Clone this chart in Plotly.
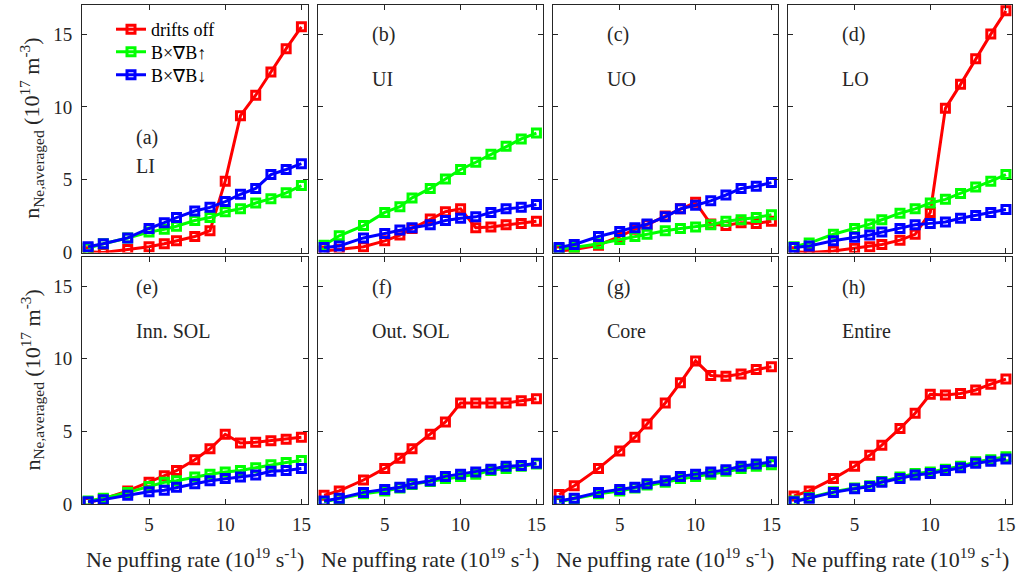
import plotly.graph_objects as go

# Ne puffing rate (10^19 s^-1)
puff_rate = [1, 2, 3.6, 5, 6, 6.8, 8, 9, 10, 11, 12, 13, 14, 15]

# Averaged Ne density (10^17 m^-3) per region, for each drift case
regions = ["LI", "UI", "UO", "LO", "Inn. SOL", "Out. SOL", "Core", "Entire"]
panel_tags = ["(a)", "(b)", "(c)", "(d)", "(e)", "(f)", "(g)", "(h)"]

drifts_off = {
    "LI":       [0.05, 0.0, 0.2, 0.4, 0.6, 0.8, 1.1, 1.5, 4.9, 9.4, 10.8, 12.4, 14.0, 15.5],
    "UI":       [0.1, 0.2, 0.4, 0.8, 1.2, 1.65, 2.3, 2.8, 3.0, 1.7, 1.75, 1.9, 2.0, 2.15],
    "UO":       [0.1, 0.2, 0.5, 1.1, 1.6, 1.9, 2.5, 3.0, 3.45, 1.95, 1.85, 2.05, 2.0, 2.15],
    "LO":       [0.05, 0.0, 0.1, 0.3, 0.4, 0.55, 0.85, 1.25, 2.75, 9.9, 11.55, 13.3, 15.0, 16.6],
    "Inn. SOL": [0.1, 0.35, 0.9, 1.5, 1.95, 2.3, 3.05, 3.8, 4.8, 4.2, 4.25, 4.35, 4.45, 4.6],
    "Out. SOL": [0.6, 0.9, 1.65, 2.45, 3.15, 3.8, 4.8, 5.65, 6.95, 6.95, 6.95, 6.95, 7.1, 7.25],
    "Core":     [0.65, 1.25, 2.45, 3.65, 4.6, 5.5, 6.95, 8.35, 9.85, 8.85, 8.8, 8.95, 9.25, 9.45],
    "Entire":   [0.55, 0.9, 1.75, 2.6, 3.35, 4.05, 5.2, 6.25, 7.55, 7.5, 7.6, 7.85, 8.25, 8.6],
}
bxgradb_up = {
    "LI":       [0.3, 0.6, 1.0, 1.4, 1.6, 1.8, 2.2, 2.4, 2.8, 3.0, 3.4, 3.7, 4.1, 4.6],
    "UI":       [0.5, 1.15, 1.85, 2.75, 3.15, 3.75, 4.4, 5.05, 5.7, 6.2, 6.75, 7.3, 7.8, 8.2],
    "UO":       [0.25, 0.35, 0.6, 0.9, 1.1, 1.25, 1.5, 1.65, 1.75, 1.9, 2.15, 2.25, 2.4, 2.6],
    "LO":       [0.4, 0.65, 1.25, 1.65, 1.95, 2.25, 2.7, 3.0, 3.4, 3.65, 4.05, 4.5, 4.9, 5.35],
    "Inn. SOL": [0.2, 0.4, 0.8, 1.2, 1.5, 1.6, 1.85, 2.05, 2.2, 2.3, 2.5, 2.7, 2.85, 3.0],
    "Out. SOL": [0.15, 0.35, 0.7, 0.9, 1.1, 1.35, 1.55, 1.75, 1.9, 2.05, 2.3, 2.45, 2.6, 2.75],
    "Core":     [0.15, 0.35, 0.7, 0.9, 1.1, 1.3, 1.5, 1.75, 1.9, 2.05, 2.25, 2.45, 2.6, 2.7],
    "Entire":   [0.2, 0.45, 0.85, 1.1, 1.25, 1.55, 1.85, 2.1, 2.2, 2.4, 2.6, 2.9, 3.05, 3.25],
}
bxgradb_down = {
    "LI":       [0.4, 0.6, 1.0, 1.65, 2.05, 2.4, 2.85, 3.1, 3.5, 4.0, 4.4, 5.35, 5.7, 6.1],
    "UI":       [0.35, 0.45, 1.0, 1.3, 1.55, 1.7, 1.9, 2.2, 2.35, 2.45, 2.75, 3.0, 3.1, 3.3],
    "UO":       [0.35, 0.55, 1.1, 1.45, 1.7, 1.95, 2.45, 3.0, 3.25, 3.55, 3.95, 4.4, 4.55, 4.8],
    "LO":       [0.35, 0.45, 0.8, 1.05, 1.2, 1.4, 1.65, 1.9, 2.0, 2.1, 2.35, 2.55, 2.75, 2.95],
    "Inn. SOL": [0.15, 0.3, 0.6, 0.85, 0.95, 1.15, 1.4, 1.6, 1.75, 1.85, 2.0, 2.25, 2.3, 2.45],
    "Out. SOL": [0.2, 0.4, 0.8, 1.0, 1.15, 1.4, 1.6, 1.9, 2.05, 2.2, 2.4, 2.6, 2.65, 2.8],
    "Core":     [0.2, 0.4, 0.8, 1.0, 1.15, 1.4, 1.6, 1.9, 2.05, 2.2, 2.35, 2.6, 2.75, 2.9],
    "Entire":   [0.15, 0.4, 0.8, 1.05, 1.2, 1.5, 1.75, 2.0, 2.1, 2.3, 2.5, 2.8, 2.95, 3.1],
}

x_ticks = [5, 10, 15]
y_ticks = [0, 5, 10, 15]

cases = [
    ("drifts off", drifts_off, "#ff0000"),
    ("B×∇B↑", bxgradb_up, "#00ff00"),
    ("B×∇B↓", bxgradb_down, "#0000ff"),
]

# page geometry (pixels)
W, H = 1019, 577
M_L, M_R, M_T, M_B = 82, 7, 5, 73
PW, PH = W - M_L - M_R, H - M_T - M_B
col_px = [(82, 307.5), (318, 542.5), (553, 777.5), (788, 1012)]
row_px = [(5, 252.5), (257, 504)]


def px_x(px):
    return (px - M_L) / PW


def px_y(py):
    return (H - M_B - py) / PH


FONT = "Liberation Serif, Times New Roman, serif"
INK = "#262626"
legend_ids = ["legend", "legend2", "legend3"]

fig = go.Figure()

for k, region in enumerate(regions):
    r, c = divmod(k, 4)
    idx = k + 1
    xa = "x" if idx == 1 else f"x{idx}"
    ya = "y" if idx == 1 else f"y{idx}"
    for j, (name, table, color) in enumerate(cases):
        fig.add_trace(go.Scatter(
            x=puff_rate, y=table[region], name=name,
            mode="lines+markers",
            line=dict(color=color, width=3),
            marker=dict(symbol="square-open", size=8, color=color,
                        line=dict(color=color, width=3)),
            xaxis=xa, yaxis=ya, showlegend=(k == 0), legend=legend_ids[j],
        ))

    x0, x1 = col_px[c]
    y0, y1 = row_px[r]
    axis_common = dict(showline=True, mirror="allticks", linecolor=INK, linewidth=1,
                       ticks="inside", ticklen=5, tickcolor=INK, tickwidth=1,
                       showgrid=False, zeroline=False,
                       tickfont=dict(family=FONT, size=19, color=INK))
    fig.layout["xaxis" if idx == 1 else f"xaxis{idx}"] = dict(
        domain=[px_x(x0), px_x(x1)], range=[0.6, 15.4],
        tickvals=x_ticks, showticklabels=(r == 1), anchor=ya,
        ticklabelstandoff=3, **axis_common)
    fig.layout["yaxis" if idx == 1 else f"yaxis{idx}"] = dict(
        domain=[px_y(y1), px_y(y0)], range=[0, 17],
        tickvals=y_ticks, showticklabels=(c == 0), anchor=xa,
        ticklabelstandoff=5, **axis_common)

    # panel tag and region name
    if k == 0:
        tag_y, name_y = 137, 166
    else:
        tag_y, name_y = y0 + 30, y0 + 74
    fig.add_annotation(text=panel_tags[k], x=px_x(x0 + 52), y=px_y(tag_y),
                       xref="paper", yref="paper", xanchor="left", yanchor="middle",
                       showarrow=False, font=dict(family=FONT, size=20, color=INK))
    fig.add_annotation(text=region, x=px_x(x0 + 52), y=px_y(name_y),
                       xref="paper", yref="paper", xanchor="left", yanchor="middle",
                       showarrow=False, font=dict(family=FONT, size=20, color=INK))

    if r == 1:
        fig.add_annotation(text="Ne puffing rate (10<sup>19</sup> s<sup>-1</sup>)",
                           x=px_x((x0 + x1) / 2), y=px_y(558),
                           xref="paper", yref="paper", xanchor="center", yanchor="middle",
                           showarrow=False, font=dict(family=FONT, size=22, color=INK))

for (y0, y1) in row_px:
    fig.add_annotation(text="n<sub>Ne,averaged</sub> (10<sup>17</sup> m<sup>-3</sup>)",
                       x=px_x(32), y=px_y((y0 + y1) / 2), textangle=-90,
                       xref="paper", yref="paper", xanchor="center", yanchor="middle",
                       showarrow=False, font=dict(family=FONT, size=22, color=INK))

# one legend box per entry, stacked in the first panel
legend_rows_px = [29.5, 52, 75]
for lid, cy in zip(legend_ids, legend_rows_px):
    fig.layout[lid] = dict(x=px_x(111), y=px_y(cy), xanchor="left", yanchor="middle",
                           bgcolor="rgba(0,0,0,0)", borderwidth=0,
                           font=dict(family=FONT, size=18, color="black"),
                           itemwidth=30)

fig.update_layout(
    width=W, height=H,
    margin=dict(l=M_L, r=M_R, t=M_T, b=M_B),
    paper_bgcolor="white", plot_bgcolor="white",
    font=dict(family=FONT),
)

fig.write_html("out.html")
